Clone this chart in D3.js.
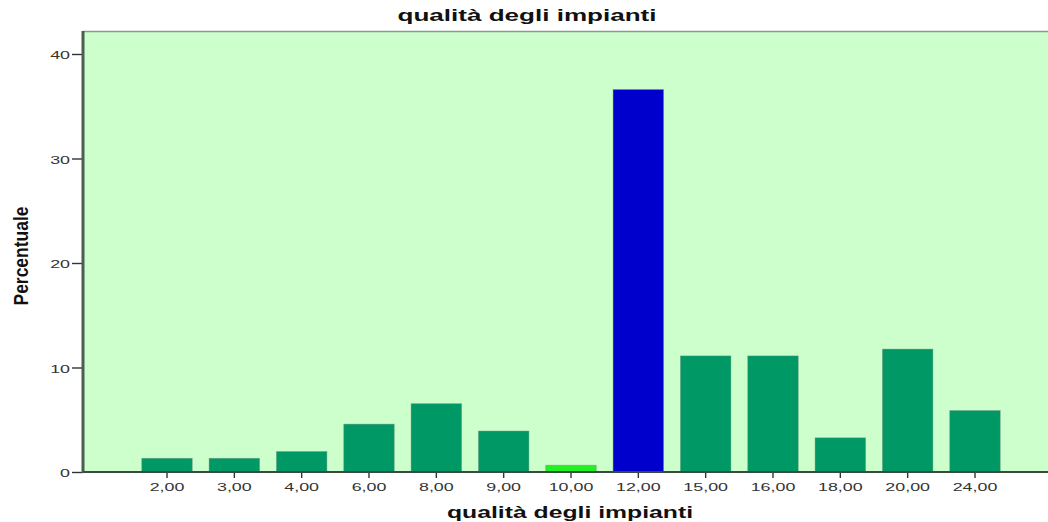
<!DOCTYPE html>
<html><head><meta charset="utf-8">
<script src="https://cdn.jsdelivr.net/npm/d3@7"></script>
<style>body{margin:0;background:#fff}svg{display:block}</style>
</head><body>
<script>
const categories = ["2,00","3,00","4,00","6,00","8,00","9,00","10,00","12,00","15,00","16,00","18,00","20,00","24,00"];
const values = [1.31,1.31,1.96,4.58,6.54,3.92,0.65,36.60,11.11,11.11,3.27,11.76,5.88];
const barColors = ["#009966","#009966","#009966","#009966","#009966","#009966","#22f022","#0000cc","#009966","#009966","#009966","#009966","#009966"];
const yTicks = [0,10,20,30,40];
const title = "qualità degli impianti";
const xTitle = "qualità degli impianti";
const yTitle = "Percentuale";

const W = 1048, H = 522;
const m = {left:83, top:31, right:1048, bottom:472};
const svg = d3.select("body").append("svg").attr("width",W).attr("height",H);

const x = d3.scaleBand().domain(categories).range([83,1059]).paddingInner(0.25).paddingOuter(0.8726);
const y = d3.scaleLinear().domain([0,42.2]).range([m.bottom,m.top]);

svg.append("rect").attr("x",m.left).attr("y",m.top).attr("width",m.right-m.left).attr("height",m.bottom-m.top).attr("fill","#ccffcc");
svg.append("line").attr("x1",m.left).attr("x2",m.right).attr("y1",m.top+0.5).attr("y2",m.top+0.5).attr("stroke","#8a9a8a").attr("stroke-width",1.5);

svg.append("g").selectAll("rect").data(values).join("rect")
  .attr("x",(d,i)=>x(categories[i]))
  .attr("width",x.bandwidth())
  .attr("y",d=>y(d))
  .attr("height",d=>y(0)-y(d))
  .attr("fill",(d,i)=>barColors[i])
  .attr("stroke","#6f8f80").attr("stroke-width",0.8).attr("stroke-opacity",0.5);

const fontTick = "'Liberation Sans', Arial, sans-serif";
const ya = svg.append("g").attr("transform",`translate(${m.left},0)`)
  .call(d3.axisLeft(y).tickValues(yTicks).tickSize(11).tickPadding(2).tickFormat(d3.format("d")));
ya.select(".domain").remove();
svg.append("line").attr("x1",m.left).attr("x2",m.left).attr("y1",m.top).attr("y2",m.bottom+1).attr("stroke","#4a5f50").attr("stroke-width",3);

const xa = svg.append("g").attr("transform",`translate(0,${m.bottom})`)
  .call(d3.axisBottom(x).tickSize(6).tickPadding(5));
xa.select(".domain").remove();
svg.append("line").attr("x1",m.left).attr("x2",m.right).attr("y1",m.bottom).attr("y2",m.bottom).attr("stroke","#3a4a40").attr("stroke-width",1.8);

svg.selectAll(".tick line").attr("stroke","#333").attr("stroke-width",1.4);
svg.selectAll(".tick text").attr("fill","#333").style("font-family",fontTick).style("font-size","11.5px");
ya.selectAll(".tick text").attr("dy","0.42em");

function stretch(sel, f){ sel.each(function(){ const L=this.getComputedTextLength(); d3.select(this).attr("textLength",L*f).attr("lengthAdjust","spacingAndGlyphs"); }); }
stretch(svg.selectAll(".tick text"), 1.55);

const t = svg.append("text").attr("x",527).attr("y",21).attr("text-anchor","middle")
  .style("font-family","'Liberation Sans', Arial, sans-serif").style("font-weight","bold").style("font-size","17px").attr("fill","#111").text(title)
  .attr("textLength",259).attr("lengthAdjust","spacingAndGlyphs");
const xt = svg.append("text").attr("x",570).attr("y",518).attr("text-anchor","middle")
  .style("font-family","'Liberation Sans', Arial, sans-serif").style("font-weight","bold").style("font-size","16px").attr("fill","#111").text(xTitle)
  .attr("textLength",246).attr("lengthAdjust","spacingAndGlyphs");
const yt = svg.append("text").attr("transform","translate(28,256) rotate(-90)").attr("text-anchor","middle")
  .style("font-family","'Liberation Sans Narrow','Liberation Sans',sans-serif").style("font-weight","bold").style("font-size","21px").attr("fill","#111").text(yTitle)
  .attr("textLength",99).attr("lengthAdjust","spacingAndGlyphs");
</script>
</body></html>
